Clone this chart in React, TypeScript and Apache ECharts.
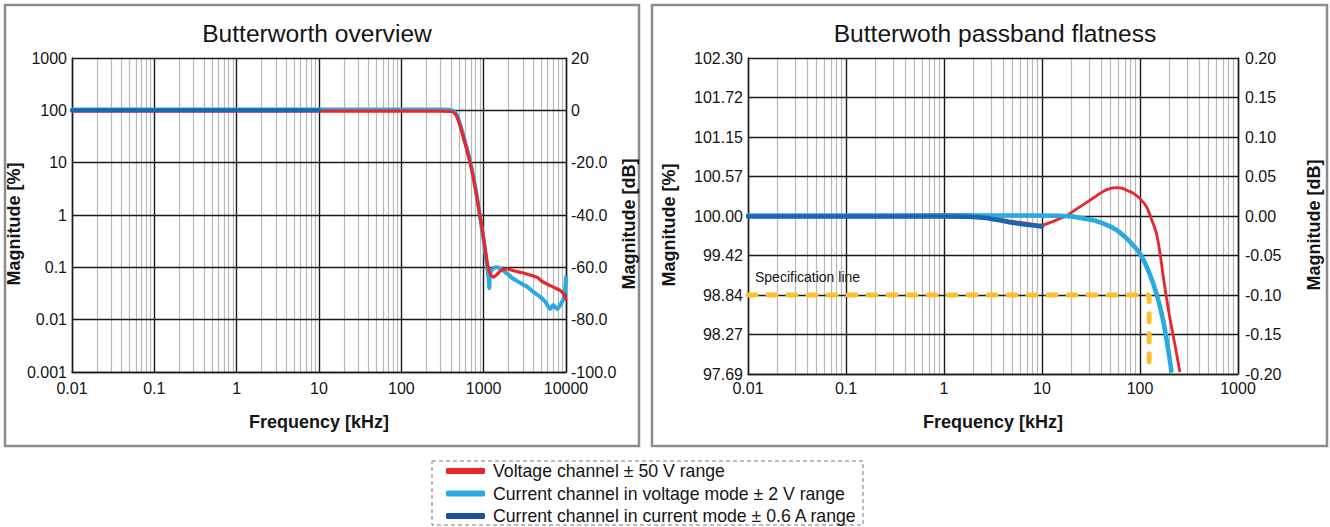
import React, { useEffect, useRef } from "react";
import * as echarts from "echarts";

const FONT = "'Liberation Sans', Arial, Helvetica, sans-serif";
const INK = "#151515";

const RED = "#e8262c";
const LIGHT_BLUE = "#29abe2";
const DARK_BLUE = "#1a66b0";
const DARK_BLUE_LEGEND = "#1f4f9f";
const SPEC_YELLOW = "#fdbf2d";

const seriesNames = [
  "Voltage channel ± 50 V range",
  "Current channel in voltage mode ± 2 V range",
  "Current channel in current mode ± 0.6 A range",
];

// ---------- Overview chart (magnitude in %, log) ----------
const ovVoltage: [number, number][] = [
  [0.01, 97], [1, 97], [10, 97], [100, 97], [300, 96.5], [400, 95], [430, 92],
  [472, 76], [518, 50], [600, 22], [686, 9.9], [800, 3.0], [906, 0.93],
  [1000, 0.36], [1112, 0.117], [1200, 0.075], [1315, 0.065], [1450, 0.073],
  [1600, 0.086], [1910, 0.094], [2300, 0.086], [2700, 0.081], [3050, 0.078],
  [3500, 0.073], [4030, 0.068], [4600, 0.063], [5000, 0.055], [5860, 0.048],
  [7000, 0.042], [8510, 0.036], [9500, 0.030], [10000, 0.024],
];
const ovCurrentV: [number, number][] = [
  [0.01, 104], [10, 104], [100, 104], [300, 103.5], [400, 102], [430, 97],
  [472, 82], [518, 54], [600, 24], [686, 10.5], [800, 3.1], [906, 0.9],
  [1000, 0.33], [1080, 0.13], [1120, 0.085], [1150, 0.06], [1170, 0.04],
  [1195, 0.075], [1260, 0.09], [1400, 0.1], [1550, 0.097], [1800, 0.083],
  [2000, 0.072], [2300, 0.06], [2800, 0.05], [3350, 0.043], [4000, 0.034],
  [4900, 0.027], [5600, 0.022], [6460, 0.016], [7000, 0.019], [7800, 0.016],
  [8500, 0.019], [9300, 0.025], [9700, 0.033], [10000, 0.065],
];
const ovCurrentI: [number, number][] = [
  [0.01, 100], [10, 100],
];
const ovPercentTicks = ["0.001", "0.01", "0.1", "1", "10", "100", "1000"];
const ovDbTicks = ["-100.0", "-80.0", "-60.0", "-40.0", "-20.0", "0", "20"];

// ---------- Flatness chart (magnitude in dB, linear) ----------
const flVoltage: [number, number][] = [
  [0.01, 0.0008], [0.1, 0.001], [0.5, 0.0015], [1, 0.002], [2, 0.0015],
  [2.7, -0.001], [3.7, -0.004], [5, -0.0068], [6.9, -0.009], [9.86, -0.0114],
  [12.9, -0.007], [15, -0.0035], [17.7, 0], [22, 0.008], [28.4, 0.017],
  [36, 0.0255], [42, 0.031], [50, 0.035], [57.4, 0.036], [66, 0.035],
  [75, 0.032], [85, 0.029], [100, 0.022], [116, 0.012], [130, -0.003],
  [147, -0.022], [160, -0.047], [172, -0.075], [186, -0.103], [201, -0.128],
  [225, -0.16], [254, -0.196],
];
const flCurrentV: [number, number][] = [
  [0.01, 0.0006], [1, 0.0006], [10, 0.0006], [15, 0.0004], [20, -0.0005],
  [26, -0.003], [35, -0.006], [45, -0.011], [58, -0.018], [72.6, -0.028],
  [85, -0.037], [99, -0.047], [115, -0.062], [136, -0.085], [155, -0.108],
  [172, -0.132], [190, -0.162], [209, -0.196],
];
const flCurrentI: [number, number][] = [
  [0.01, -0.0006], [1, -0.0006], [1.7, -0.0008], [2.2, -0.0015],
  [2.7, -0.0025], [3.7, -0.0055], [4.5, -0.0075], [5.5, -0.0093],
  [7, -0.0112], [9.1, -0.0128], [10, -0.0135],
];
const flSpecLine: [number, number][] = [
  [0.01, -0.1], [124, -0.1], [124, -0.195],
];
const flPercentTicks = ["97.69", "98.27", "98.84", "99.42", "100.00", "100.57", "101.15", "101.72", "102.30"];
const flDbTicks = ["-0.20", "-0.15", "-0.10", "-0.05", "0.00", "0.05", "0.10", "0.15", "0.20"];

// minor grid decades (2..9 within each decade)
const ovDecades = [0.01, 0.1, 1, 10, 100, 1000];
const flDecades = [0.01, 0.1, 1, 10, 100];
const minorSteps = [2, 3, 4, 5, 6, 7, 8, 9];

const minorValues = (decades: number[]) =>
  decades.flatMap((d) => minorSteps.map((m) => ({ xAxis: parseFloat((d * m).toPrecision(6)) })));

const cleanNum = (v: number) => String(parseFloat(Number(v).toPrecision(6)));

const labelStyle = { fontFamily: FONT, fontSize: 16, color: INK };
const nameStyle = { fontFamily: FONT, fontSize: 18, fontWeight: "bold" as const, color: INK };
const yNameStyle = { ...nameStyle, padding: [0, 18, 0, 0] };
const majorLine = { color: "#1a1a1a", width: 1.4 };

function minorSeries(xi: number, yi: number, decades: number[]) {
  return {
    type: "line",
    name: "_minor" + xi,
    xAxisIndex: xi,
    yAxisIndex: yi,
    data: [],
    silent: true,
    markLine: {
      silent: true,
      z: -1,
      symbol: ["none", "none"],
      label: { show: false },
      lineStyle: { color: "#b9b9b9", width: 1.2, type: "solid" },
      emphasis: { disabled: true },
      data: minorValues(decades),
    },
  };
}

function lineSeries(name: string, data: [number, number][], xi: number, yi: number, color: string, width: number, z: number, smooth: number) {
  return {
    type: "line",
    name,
    xAxisIndex: xi,
    yAxisIndex: yi,
    data,
    showSymbol: false,
    symbol: "none",
    smooth,
    z,
    lineStyle: { color, width, cap: "round", join: "round" },
    itemStyle: { color },
    emphasis: { disabled: true },
  };
}

export default function App() {
  const ref = useRef<HTMLDivElement>(null);

  useEffect(() => {
    if (!ref.current) return;
    const chart = echarts.init(ref.current, null, { renderer: "svg" });

    const option: any = {
      animation: false,
      backgroundColor: "#ffffff",
      grid: [
        { left: 72, top: 58, width: 494, height: 314 },
        { left: 748, top: 58, width: 490, height: 316 },
      ],
      xAxis: [
        {
          type: "log", gridIndex: 0, logBase: 10, min: 0.01, max: 10000, splitNumber: 10,
          axisLine: { show: true, onZero: false, lineStyle: majorLine },
          axisTick: { show: false },
          splitLine: { show: true, lineStyle: majorLine },
          axisLabel: { ...labelStyle, margin: 8, formatter: (v: number) => cleanNum(v) },
          name: "Frequency [kHz]", nameLocation: "middle", nameGap: 41, nameTextStyle: nameStyle,
        },
        {
          type: "log", gridIndex: 1, logBase: 10, min: 0.01, max: 1000, splitNumber: 10,
          axisLine: { show: true, onZero: false, lineStyle: majorLine },
          axisTick: { show: false },
          splitLine: { show: true, lineStyle: majorLine },
          axisLabel: { ...labelStyle, margin: 6, formatter: (v: number) => cleanNum(v) },
          name: "Frequency [kHz]", nameLocation: "middle", nameGap: 39, nameTextStyle: nameStyle,
        },
      ],
      yAxis: [
        {
          type: "log", gridIndex: 0, logBase: 10, min: 0.001, max: 1000, splitNumber: 10,
          position: "left",
          axisLine: { show: true, onZero: false, lineStyle: majorLine },
          axisTick: { show: false },
          splitLine: { show: true, lineStyle: majorLine },
          axisLabel: {
            ...labelStyle, margin: 5,
            formatter: (v: number) => ovPercentTicks[Math.round(Math.log10(v) + 3)] ?? cleanNum(v),
          },
          name: "Magnitude [%]", nameLocation: "middle", nameRotate: 90, nameGap: 46, nameTextStyle: yNameStyle,
        },
        {
          type: "value", gridIndex: 0, min: -100, max: 20, interval: 20,
          position: "right",
          axisLine: { show: true, onZero: false, lineStyle: majorLine },
          axisTick: { show: false },
          splitLine: { show: false },
          axisLabel: {
            ...labelStyle, margin: 5,
            formatter: (v: number) => ovDbTicks[Math.round((v + 100) / 20)] ?? String(v),
          },
          name: "Magnitude [dB]", nameLocation: "middle", nameRotate: 90, nameGap: 51, nameTextStyle: yNameStyle,
        },
        {
          type: "value", gridIndex: 1, min: -0.2, max: 0.2, interval: 0.05,
          position: "left",
          axisLine: { show: true, onZero: false, lineStyle: majorLine },
          axisTick: { show: false },
          splitLine: { show: true, lineStyle: majorLine },
          axisLabel: {
            ...labelStyle, margin: 5,
            formatter: (v: number) => flPercentTicks[Math.round((v + 0.2) / 0.05)] ?? String(v),
          },
          name: "Magnitude [%]", nameLocation: "middle", nameRotate: 90, nameGap: 70, nameTextStyle: yNameStyle,
        },
        {
          type: "value", gridIndex: 1, min: -0.2, max: 0.2, interval: 0.05,
          position: "right",
          axisLine: { show: true, onZero: false, lineStyle: majorLine },
          axisTick: { show: false },
          splitLine: { show: false },
          axisLabel: {
            ...labelStyle, margin: 7,
            formatter: (v: number) => flDbTicks[Math.round((v + 0.2) / 0.05)] ?? String(v),
          },
          name: "Magnitude [dB]", nameLocation: "middle", nameRotate: 90, nameGap: 67, nameTextStyle: yNameStyle,
        },
      ],
      legend: {
        orient: "vertical",
        left: 446,
        top: 462,
        padding: 0,
        itemWidth: 39,
        itemHeight: 6,
        itemGap: 4.5,
        icon: "roundRect",
        selectedMode: false,
        textStyle: { fontFamily: FONT, fontSize: 17.7, color: INK, padding: [0, 0, 0, 3] },
        data: [
          { name: seriesNames[0], itemStyle: { color: RED } },
          { name: seriesNames[1], itemStyle: { color: LIGHT_BLUE } },
          { name: seriesNames[2], itemStyle: { color: DARK_BLUE_LEGEND } },
        ],
      },
      series: [
        minorSeries(0, 0, ovDecades),
        lineSeries(seriesNames[1], ovCurrentV, 0, 0, LIGHT_BLUE, 4, 3, 0.2),
        lineSeries(seriesNames[0], ovVoltage, 0, 0, RED, 3.2, 4, 0.2),
        lineSeries(seriesNames[2], ovCurrentI, 0, 0, DARK_BLUE, 4, 5, 0),

        minorSeries(1, 2, flDecades),
        {
          type: "line",
          name: "Specification line",
          xAxisIndex: 1,
          yAxisIndex: 2,
          data: flSpecLine,
          showSymbol: false,
          symbol: "none",
          z: 3,
          lineStyle: { color: SPEC_YELLOW, width: 5, type: [8, 12], cap: "round" },
          emphasis: { disabled: true },
        },
        lineSeries(seriesNames[0], flVoltage, 1, 2, RED, 2.8, 4, 0.3),
        lineSeries(seriesNames[1], flCurrentV, 1, 2, LIGHT_BLUE, 4.6, 5, 0.3),
        lineSeries(seriesNames[2], flCurrentI, 1, 2, DARK_BLUE, 4.5, 6, 0.3),
      ],
      graphic: [
        {
          type: "rect", silent: true, z: 0,
          shape: { x: 5, y: 5, width: 634, height: 441 },
          style: { fill: "none", stroke: "#8c8c8c", lineWidth: 2.5 },
        },
        {
          type: "rect", silent: true, z: 0,
          shape: { x: 652, y: 5, width: 675, height: 441 },
          style: { fill: "none", stroke: "#8c8c8c", lineWidth: 2.5 },
        },
        {
          type: "rect", silent: true, z: 0,
          shape: { x: 432, y: 461, width: 431, height: 64 },
          style: { fill: "none", stroke: "#7a7a7a", lineWidth: 1, lineDash: [4, 3] },
        },
        {
          type: "text", silent: true, x: 317, y: 33,
          style: { text: "Butterworth overview", font: `24.6px ${FONT}`, fill: INK, align: "center", verticalAlign: "middle" },
        },
        {
          type: "text", silent: true, x: 995, y: 33,
          style: { text: "Butterwoth passband flatness", font: `24.6px ${FONT}`, fill: INK, align: "center", verticalAlign: "middle" },
        },
        {
          type: "text", silent: true, x: 755, y: 277,
          style: { text: "Specification line", font: `14px ${FONT}`, fill: INK, align: "left", verticalAlign: "middle" },
        },
      ],
    };

    chart.setOption(option);
    return () => chart.dispose();
  }, []);

  return (
    <div
      ref={ref}
      style={{ position: "fixed", left: 0, top: 0, width: 1330, height: 527, background: "#ffffff" }}
    />
  );
}
